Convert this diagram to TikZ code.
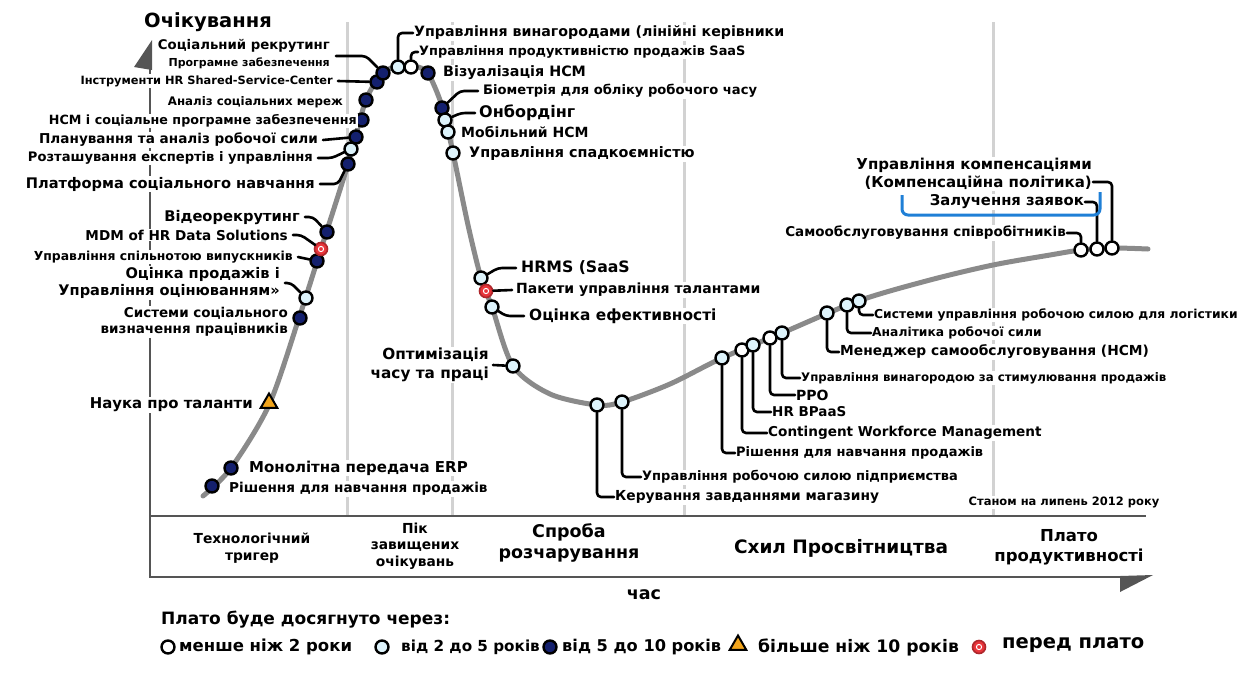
\documentclass[tikz,border=0pt]{standalone}
\usepackage{fontspec}
\setmainfont{DejaVu Sans}
\usetikzlibrary{shapes.geometric}

\newcommand{\fs}[1]{\fontsize{#1}{\fpeval{1.2*#1}}\selectfont}

\definecolor{navydot}{HTML}{14206E}
\definecolor{lightdot}{HTML}{DDF3FB}
\definecolor{reddot}{HTML}{E8343A}
\definecolor{tridot}{HTML}{F2A51C}
\definecolor{curvegray}{HTML}{8A8A8A}
\definecolor{divgray}{HTML}{D2D2D2}
\definecolor{axisgray}{HTML}{555555}
\definecolor{bracketblue}{HTML}{1F7FD6}

\tikzset{
  dot/.style={circle, draw=black, line width=2.4pt, minimum size=13pt, inner sep=0pt},
  dk/.style={dot, fill=navydot},
  lt/.style={dot, fill=lightdot},
  wt/.style={dot, fill=white},
  rd/.style={dot, draw=reddot!75!black, line width=1.6pt, fill=reddot,
    path picture={\draw[white, line width=1pt] (path picture bounding box.center) circle (2.6pt);}},
  tr/.style={regular polygon, regular polygon sides=3, draw=black, line width=2pt,
    fill=tridot, minimum size=19pt, inner sep=0pt},
  lbl/.style={font=\bfseries\fs{#1}, inner sep=1pt, fill=white},
  conn/.style={line width=2.6pt, line cap=round, line join=round, rounded corners=4pt},
  divider/.style={divgray, line width=3pt},
  axisline/.style={axisgray, line width=2.5pt},
}

\begin{document}
\begin{tikzpicture}[x=1pt, y=-1pt]
\useasboundingbox (0,0) rectangle (1253,673);

% phase dividers
\foreach \xd in {347,452,684,993}
  \draw[divider] (\xd,22) -- (\xd,515);

% axes
\draw[axisline] (150,68) -- (150,516) -- (1146,516);
\draw[axisline] (150,516) -- (150,577) -- (1122,577);
\fill[axisgray] (152,40) -- (152,70) -- (134,67) -- cycle;
\fill[axisgray] (1120,576) -- (1153,575) -- (1120,592) -- cycle;

% hype curve
\draw[curvegray, line width=5pt, line cap=round] plot[smooth] coordinates {
  (203,496) (231,468) (269,405) (299,318) (321,249) (348,164) (366,100)
  (383,73) (398,66) (411,66) (427,72) (442,106) (453,153) (468,225)
  (481,278) (492,307) (513,366) (550,394) (597,405) (622,402) (670,384)
  (722,358) (782,333) (858,301) (930,280) (993,265) (1050,255)
  (1081,250) (1112,248) (1148,249)};

% dots
\node[dk] (r1) at (212,486) {};
\node[dk] (r2) at (231,468) {};
\node[tr] (r3) at (269,403) {};
\node[dk] (r4) at (300,318) {};
\node[lt] (r5) at (306,298) {};
\node[dk] (r6) at (317,261) {};
\node[rd] (r7) at (321,249) {};
\node[dk] (r8) at (327,232) {};
\node[dk] (r9) at (348,164) {};
\node[lt] (r10) at (351,149) {};
\node[dk] (r11) at (356,137) {};
\node[dk] (r12) at (362,120) {};
\node[dk] (r13) at (366,100) {};
\node[dk] (r14) at (377,82) {};
\node[dk] (r15) at (383,73) {};
\node[lt] (p1) at (398,67) {};
\node[wt] (p2) at (411,67) {};
\node[dk] (p3) at (428,73) {};
\node[dk] (f1) at (442,108) {};
\node[lt] (f2) at (445,120) {};
\node[lt] (f3) at (448,132) {};
\node[lt] (f4) at (453,153) {};
\node[lt] (f5) at (481,278) {};
\node[rd] (f6) at (486,291) {};
\node[lt] (f7) at (492,307) {};
\node[lt] (f8) at (513,366) {};
\node[lt] (f9) at (597,405) {};
\node[lt] (f10) at (622,402) {};
\node[lt] (s1) at (722,358) {};
\node[wt] (s2) at (742,350) {};
\node[lt] (s3) at (753,345) {};
\node[wt] (s4) at (770,338) {};
\node[lt] (s5) at (782,333) {};
\node[lt] (s6) at (827,313) {};
\node[lt] (s7) at (847,305) {};
\node[lt] (s8) at (859,301) {};
\node[wt] (t1) at (1081,250) {};
\node[wt] (t2) at (1097,249) {};
\node[wt] (t3) at (1112,248) {};

% labels, rising side
\node[lbl=13.3, anchor=east, align=right] (socrec) at (331,54)
  {Соціальний рекрутинг\\[1pt]\fs{11}Програмне забезпечення};
\node[lbl=11.4, anchor=east] (hrssc) at (334,81) {Інструменти HR Shared-Service-Center};
\node[lbl=11.8, anchor=east] (sna) at (344,102) {Аналіз соціальних мереж};
\node[lbl=12.7, anchor=east] (hcmsoc) at (358,121) {HCM і соціальне програмне забезпечення};
\node[lbl=13.6, anchor=east] (wfp) at (319,140) {Планування та аналіз робочої сили};
\node[lbl=13.1, anchor=east] (expert) at (314,158) {Розташування експертів і управління};
\node[lbl=14.6, anchor=east] (slp) at (316,184) {Платформа соціального навчання};
\node[lbl=14.7, anchor=east] (video) at (301,217) {Відеорекрутинг};
\node[lbl=13.6, anchor=east] (mdm) at (289,235) {MDM of HR Data Solutions};
\node[lbl=12.4, anchor=east] (alumni) at (294,257) {Управління спільнотою випускників};
\node[lbl=14.6, anchor=east, align=right] (salesap) at (281,283)
  {Оцінка продажів і\\Управління оцінюванням»};
\node[lbl=13.5, anchor=east, align=right] (ssn) at (289,322)
  {Системи соціального\\визначення працівників};
\node[lbl=14.9, anchor=east] (talsci) at (254,405) {Наука про таланти};
\node[lbl=15, anchor=west] (erp) at (248,468) {Монолітна передача ERP};
\node[lbl=13.6, anchor=west] (salestr) at (228,489) {Рішення для навчання продажів};

% labels, peak and slide
\node[lbl=14.2, anchor=west] (reward) at (413,33) {Управління винагородами (лінійні керівники};
\node[lbl=12.9, anchor=west] (saas) at (418,52) {Управління продуктивністю продажів SaaS};
\node[lbl=14.3, anchor=west] (vis) at (442,73) {Візуалізація HCM};
\node[lbl=13.1, anchor=west] (bio) at (482,91) {Біометрія для обліку робочого часу};
\node[lbl=16, anchor=west] (onb) at (478,113) {Онбордінг};
\node[lbl=14, anchor=west] (mob) at (460,132) {Мобільний HCM};
\node[lbl=14.4, anchor=west] (succ) at (468,154) {Управління спадкоємністю};
\node[lbl=15.7, anchor=west] (hrms) at (520,268) {HRMS (SaaS};
\node[lbl=14, anchor=west] (talp) at (515,290) {Пакети управління талантами};
\node[lbl=15.4, anchor=west] (perf) at (528,316) {Оцінка ефективності};
\node[lbl=15.3, anchor=east, align=right] (tlo) at (490,365) {Оптимізація\\часу та праці};
\node[lbl=13.8, anchor=west] (store) at (614,497) {Керування завданнями магазину};
\node[lbl=13, anchor=west] (ewm) at (641,477) {Управління робочою силою підприємства};

% labels, slope
\node[lbl=13, anchor=west] (salestr2) at (735,453) {Рішення для навчання продажів};
\node[lbl=13.6, anchor=west] (cwm) at (767,433) {Contingent Workforce Management};
\node[lbl=13.5, anchor=west] (bpaas) at (771,412) {HR BPaaS};
\node[lbl=14, anchor=west] (ppo) at (795,395) {PPO};
\node[lbl=11.8, anchor=west] (irm) at (800,378) {Управління винагородою за стимулювання продажів};
\node[lbl=13.8, anchor=west] (mgr) at (839,352) {Менеджер самообслуговування (HCM)};
\node[lbl=12.3, anchor=west] (wfa) at (871,333) {Аналітика робочої сили};
\node[lbl=12.3, anchor=west] (logi) at (873,315) {Системи управління робочою силою для логістики};

% labels, plateau
\node[lbl=13.5, anchor=east] (ess) at (1067,233) {Самообслуговування співробітників};
\node[lbl=14.8, anchor=east] (reqr) at (1085,202) {Залучення заявок};
\node[lbl=15, anchor=east, align=right] (comp) at (1093,174)
  {Управління компенсаціями\\(Компенсаційна політика)};
\node[lbl=11.5] (asof) at (1064,502) {Станом на липень 2012 року};

% connectors
\draw[conn] (socrec.east) ++(5,2) -- ++(30,0) -- (r15);
\draw[conn] (hrssc.east) ++(4,0) -- (r14);
\draw[conn] (wfp.east) ++(4,0) -- (r11);
\draw[conn] (expert.east) ++(4,0) -- ++(14,0) -- (r10);
\draw[conn] (slp.east) ++(4,0) -- ++(18,0) -- (r9);
\draw[conn] (video.east) ++(4,0) -- ++(8,0) -- (r8);
\draw[conn] (mdm.east) ++(4,0) -- ++(8,0) -- (r7);
\draw[conn] (alumni.east) ++(4,0) -- (r6);
\draw[conn] (salesap.east) ++(4,0) -- ++(6,0) -- (r5);
\draw[conn] (p1) |- (reward.west);
\draw[conn] (p2) |- (saas.west);
\draw[conn] (bio.west) ++(-4,0) -- ++(-18,0) -- (f1);
\draw[conn] (onb.west) ++(-3,0) -- ++(-14,0) -- (f2);
\draw[conn] (hrms.west) ++(-4,0) -- ++(-18,0) -- (f5);
\draw[conn] (talp.west) ++(-3,0) -- (f6);
\draw[conn] (perf.west) ++(-4,0) -- ++(-18,0) -- (f7);
\draw[conn] (tlo.east) ++(3,0) -- (f8);
\draw[conn] (f9) |- (store.west);
\draw[conn] (f10) |- (ewm.west);
\draw[conn] (s1) |- (salestr2.west);
\draw[conn] (s2) |- (cwm.west);
\draw[conn] (s3) |- (bpaas.west);
\draw[conn] (s4) |- (ppo.west);
\draw[conn] (s5) |- (irm.west);
\draw[conn] (s6) |- (mgr.west);
\draw[conn] (s7) |- (wfa.west);
\draw[conn] (s8) |- (logi.west);
\draw[conn] (t1) |- (ess.east);
\draw[conn] (t2) |- (reqr.east);
\draw[conn] (t3) |- ([yshift=-8pt]comp.east);

% blue bracket
\draw[bracketblue, line width=3pt, rounded corners=6pt]
  (902,195) -- (902,215) -- (1100,215) -- (1100,192);

% axis titles and phases
\node[lbl=19.5] (ytitle) at (208,22) {Очікування};
\node[lbl=17.5] (xtitle) at (644,595) {час};
\node[lbl=13.8, align=center] (ph1) at (252,548) {Технологічний\\тригер};
\node[lbl=13.8, align=center] (ph2) at (415,546) {Пік\\завищених\\очікувань};
\node[lbl=17.5, align=center] (ph3) at (569,543) {Спроба\\розчарування};
\node[lbl=18.5] (ph4) at (841,548) {Схил Просвітництва};
\node[lbl=16.5, align=center] (ph5) at (1069,547) {Плато\\продуктивності};

% legend
\node[lbl=17, anchor=west] (lgtitle) at (160,620) {Плато буде досягнуто через:};
\node[wt] (lg1) at (168,647) {};
\node[lbl=16.5, anchor=west] (lgt1) at (178,647) {менше ніж 2 роки};
\node[lt] (lg2) at (382,647) {};
\node[lbl=15.2, anchor=west] (lgt2) at (400,647) {від 2 до 5 років};
\node[dk] (lg3) at (550,647) {};
\node[lbl=16.2, anchor=west] (lgt3) at (561,647) {від 5 до 10 років};
\node[tr] (lg4) at (738,645) {};
\node[lbl=17.2, anchor=west] (lgt4) at (757,647) {більше ніж 10 років};
\node[rd] (lg5) at (979,647) {};
\node[lbl=19.5, anchor=west] (lgt5) at (1001,645) {перед плато};
\end{tikzpicture}
\end{document}
